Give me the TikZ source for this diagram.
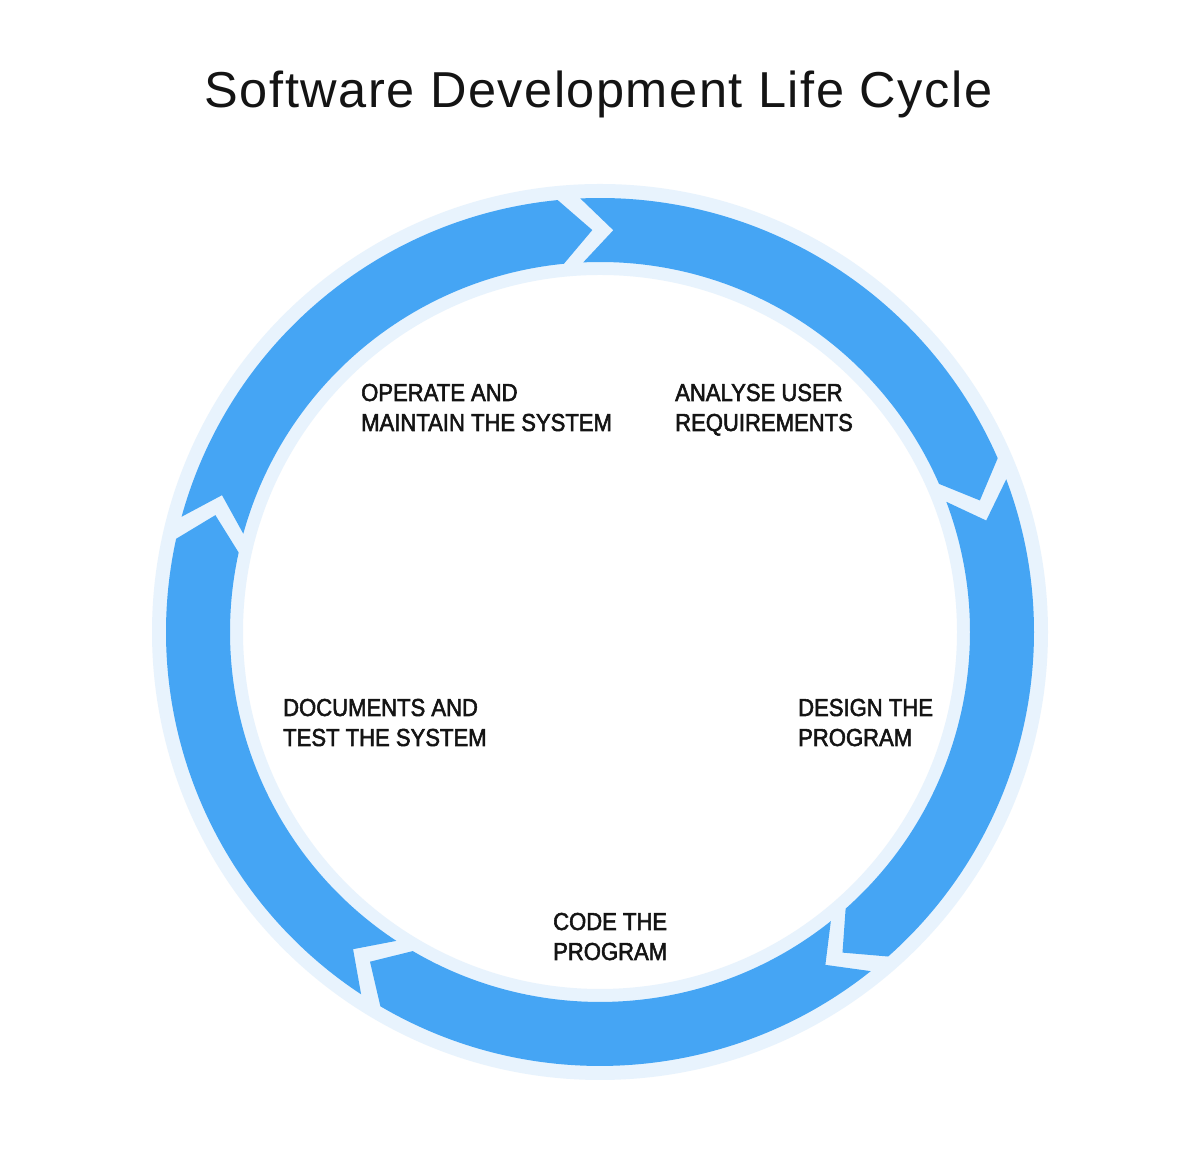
\documentclass[tikz,border=0pt]{standalone}
\usepackage{fontspec}
\setmainfont{Liberation Sans}
\newfontfamily\titlefont[LetterSpace=3.0]{Liberation Sans}
\newfontfamily\labelfont[FakeBold=2.2,FakeStretch=0.9]{Liberation Sans}
\definecolor{ringblue}{HTML}{45A5F4}
\definecolor{ringlight}{HTML}{E8F3FD}
\definecolor{ink}{HTML}{141414}
\begin{document}
\begin{tikzpicture}[x=1pt,y=1pt,
  lbl/.style={anchor=base west, inner sep=0pt, align=left,
    font=\labelfont\fontsize{24.5}{30}\selectfont, text=ink},
  seg/.style={fill=ringblue}]
\useasboundingbox (0,0) rectangle (1200,1155);
\fill[white] (0,0) rectangle (1200,1155);
\node[anchor=base, inner sep=0pt, font=\titlefont\fontsize{50.5}{60}\selectfont, text=ink] (title) at (598.5,1047) {Software Development Life Cycle};
\begin{scope}[shift={(600,523)}]
  \fill[ringlight, even odd rule] (0,0) circle (448pt) (0,0) circle (357pt);
  \foreach \k in {0,...,4}{
    \pgfmathsetmacro\ps{94.1-72*\k-1.5}
    \pgfmathsetmacro\pe{94.1-72*\k-72+1.5}
    \pgfmathsetmacro\pst{\ps-4.5}
    \pgfmathsetmacro\pet{\pe-4.5}
    \path[seg] (\ps:434pt) arc[start angle=\ps, end angle=\pe, radius=434pt]
      -- (\pet:402pt) -- (\pe:370pt)
      arc[start angle=\pe, end angle=\ps, radius=370pt]
      -- (\pst:402pt) -- cycle;
  }
\end{scope}
\node[lbl] (operate) at (361,724) {OPERATE AND\\MAINTAIN THE SYSTEM};
\node[lbl] (analyse) at (675,724) {ANALYSE USER\\REQUIREMENTS};
\node[lbl] (design) at (798,409) {DESIGN THE\\PROGRAM};
\node[lbl] (code) at (553,195) {CODE THE\\PROGRAM};
\node[lbl] (docs) at (283,409) {DOCUMENTS AND\\TEST THE SYSTEM};
\end{tikzpicture}
\end{document}
